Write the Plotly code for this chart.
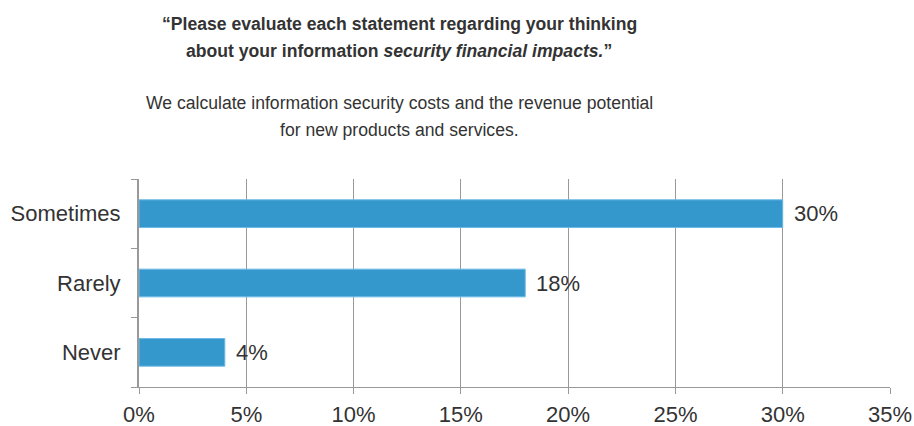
import plotly.graph_objects as go

categories = ["Never", "Rarely", "Sometimes"]
values = [4, 18, 30]
x_ticks = [0, 5, 10, 15, 20, 25, 30, 35]
x_tick_labels = [f"{t}%" for t in x_ticks]

title_lines = [
    "<b>\u201cPlease evaluate each statement regarding your thinking</b>",
    "<b>about your information <i>security financial impacts.</i>\u201d</b>",
]
subtitle_lines = [
    "We calculate information security costs and the revenue potential",
    "for new products and services.",
]

W, H = 914, 426
M_L, M_R, M_T, M_B = 139, 24, 179, 39
plot_h = H - M_T - M_B
plot_w = W - M_L - M_R

def py(p):
    return (H - M_B - p) / plot_h

def px(p):
    return (p - M_L) / plot_w

TEXT = "#333333"
FONT = "Liberation Sans, Arial, sans-serif"

fig = go.Figure(
    go.Bar(
        x=values,
        y=categories,
        orientation="h",
        marker=dict(color="#3598cc", line=dict(color="#6fbbe6", width=1)),
        cliponaxis=False,
    )
)

annotations = []
for txt, ypix in zip(title_lines + subtitle_lines, [24, 51, 103, 130]):
    annotations.append(dict(
        text=txt, xref="paper", yref="paper", x=px(399), y=py(ypix),
        xanchor="center", yanchor="middle", showarrow=False,
        font=dict(size=17.6, color=TEXT, family=FONT),
    ))

# value labels just right of each bar end
for cat, v in zip(categories, values):
    annotations.append(dict(
        text=f"{v}%", x=v, y=cat, xref="x", yref="y",
        xanchor="left", yanchor="middle", xshift=9, showarrow=False,
        font=dict(size=22, color=TEXT, family=FONT),
    ))

fig.update_layout(
    width=W, height=H,
    margin=dict(l=M_L, r=M_R, t=M_T, b=M_B),
    paper_bgcolor="white", plot_bgcolor="white",
    bargap=0.6,
    showlegend=False,
    annotations=annotations,
    font=dict(family=FONT, color=TEXT),
)
fig.update_xaxes(
    range=[0, 35], tickmode="array", tickvals=x_ticks, ticktext=x_tick_labels,
    showgrid=True, gridcolor="#999999", gridwidth=1,
    showline=True, linecolor="#999999", linewidth=1,
    ticks="outside", ticklen=6, tickcolor="#999999",
    tickfont=dict(size=22, color=TEXT, family=FONT),
    ticklabelstandoff=2,
    zeroline=False, automargin=False,
)
fig.update_yaxes(
    showline=True, linecolor="#999999", linewidth=2,
    ticks="outside", ticklen=6, tickcolor="#999999", tickson="boundaries",
    tickfont=dict(size=22, color=TEXT, family=FONT),
    ticklabelstandoff=12,
    showgrid=False, automargin=False,
)

fig.write_html("out.html")
